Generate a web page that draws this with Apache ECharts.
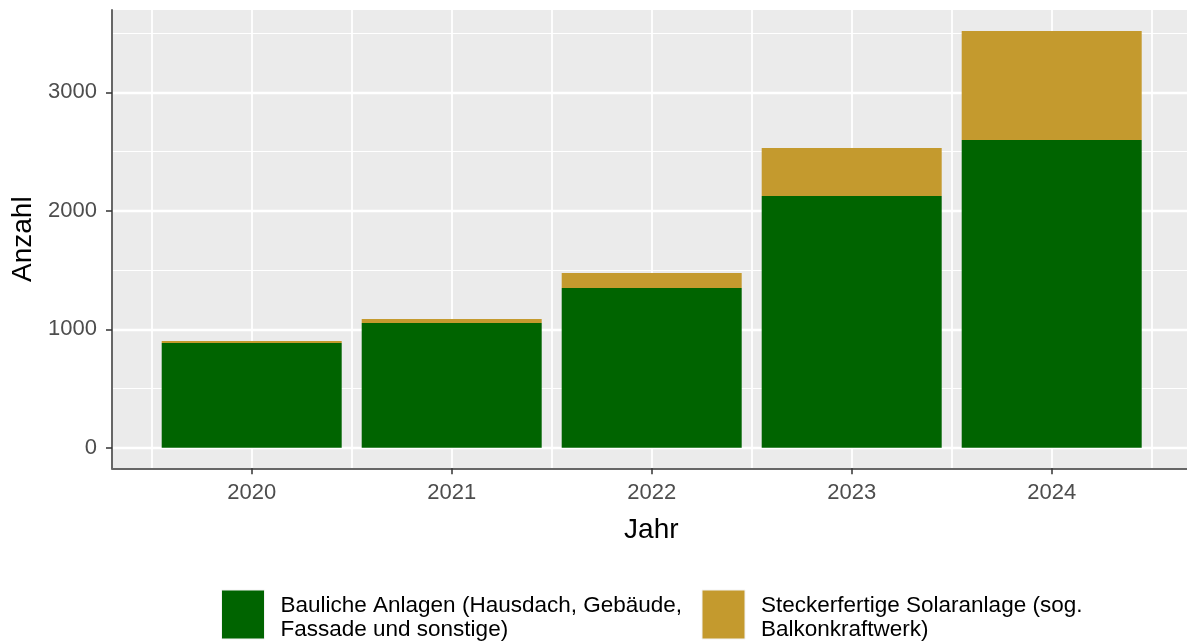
<!DOCTYPE html>
<html>
<head>
<meta charset="utf-8">
<script src="https://cdn.jsdelivr.net/npm/echarts@6/dist/echarts.min.js"></script>
<style>
html,body{margin:0;padding:0;background:#fff;}
#c{width:1187px;height:643px;}
</style>
</head>
<body>
<div id="c"></div>
<script>
var years = ['2020', '2021', '2022', '2023', '2024'];
var bauliche = [884, 1053, 1348, 2125, 2598];
var stecker = [17, 34, 127, 405, 920];
var seriesNames = ['Bauliche Anlagen (Hausdach, Gebäude, Fassade und sonstige)', 'Steckerfertige Solaranlage (sog. Balkonkraftwerk)'];
var legendLines = [['Bauliche Anlagen (Hausdach, Gebäude,', 'Fassade und sonstige)'], ['Steckerfertige Solaranlage (sog.', 'Balkonkraftwerk)']];
var colors = ['#006400', '#C49A2E'];
var yTickInterval = 1000;

var FONT = '"Liberation Sans", Arial, sans-serif';
var chart = echarts.init(document.getElementById('c'), null, {renderer: 'canvas'});

function legendFmt(name) {
  var l = legendLines[seriesNames.indexOf(name)];
  return '{s|}\n{t|' + l[0] + '}\n{t|' + l[1] + '}';
}
var legendCommon = {
  orient: 'horizontal', top: 589.5, padding: 0, itemWidth: 43, itemHeight: 49,
  icon: 'rect', formatter: legendFmt, selectedMode: false,
  itemStyle: {borderColor: '#F2F2F2', borderWidth: 1},
  textStyle: {fontFamily: FONT, fontSize: 22.5, color: '#000', padding: [0, 0, 0, 11],
    rich: {
      s: {fontSize: 1, lineHeight: 7, fontFamily: FONT},
      t: {fontFamily: FONT, fontSize: 22.5, lineHeight: 24.5, color: '#000'}
    }}
};

var option = {
  animation: false,
  backgroundColor: '#fff',
  textStyle: {fontFamily: FONT},
  grid: [
    {left: 112, right: -3.7, top: 10, bottom: 174.7, show: true, backgroundColor: '#EBEBEB', borderWidth: 0, z: -5, outerBoundsMode: 'none', containLabel: false},
    {left: 112, right: -3.7, top: -26.1, bottom: 195.3, outerBoundsMode: 'none', containLabel: false},
    {left: 151.7, right: 35.3, top: 10, bottom: 174.7, outerBoundsMode: 'none', containLabel: false},
    {left: 151.7, right: 35.3, top: -26.1, bottom: 195.3, outerBoundsMode: 'none', containLabel: false}
  ],
  xAxis: [
    {gridIndex: 0, type: 'value', min: 0, max: 1, position: 'bottom',
     axisLine: {show: true, lineStyle: {color: '#666', width: 2}},
     axisTick: {show: false}, axisLabel: {show: false}, splitLine: {show: false},
     name: 'Jahr', nameLocation: 'middle', nameGap: 48,
     nameTextStyle: {fontFamily: FONT, fontSize: 28, color: '#000'}},
    {gridIndex: 1, type: 'value', min: 0, max: 1, show: false},
    {gridIndex: 2, type: 'value', min: 0, max: 10, interval: 1, position: 'top',
     axisLine: {show: false}, axisTick: {show: false}, axisLabel: {show: false},
     splitLine: {show: true, lineStyle: {color: '#FFFFFF', width: 1.8}}},
    {gridIndex: 2, type: 'category', data: years, position: 'bottom', boundaryGap: true,
     axisLine: {show: false},
     axisTick: {show: true, alignWithLabel: true, length: 6, lineStyle: {color: '#333', width: 1.5}},
     axisLabel: {fontFamily: FONT, fontSize: 22, color: '#4D4D4D', margin: 14},
     splitLine: {show: false}},
    {gridIndex: 3, type: 'category', data: years, show: false}
  ],
  yAxis: [
    {gridIndex: 0, type: 'value', min: 0, max: 1, position: 'left',
     axisLine: {show: true, lineStyle: {color: '#666', width: 2}},
     axisTick: {show: false}, axisLabel: {show: false}, splitLine: {show: false},
     name: 'Anzahl', nameLocation: 'middle', nameGap: 75,
     nameTextStyle: {fontFamily: FONT, fontSize: 28, color: '#000'}},
    {gridIndex: 1, type: 'value', min: 0, max: 4000, interval: yTickInterval, position: 'left',
     axisLine: {show: false},
     axisTick: {show: true, length: 6, lineStyle: {color: '#333', width: 1.5}},
     axisLabel: {fontFamily: FONT, fontSize: 22, color: '#4D4D4D', margin: 15,
                 formatter: function (v) { return String(v); }},
     splitLine: {show: true, lineStyle: {color: '#FFFFFF', width: 2.4}},
     minorTick: {show: false, splitNumber: 2},
     minorSplitLine: {show: true, lineStyle: {color: '#FFFFFF', width: 1.2}}},
    {gridIndex: 2, type: 'value', show: false},
    {gridIndex: 3, type: 'value', min: 0, max: 4000, show: false}
  ],
  legend: [
    Object.assign({}, legendCommon, {left: 221, data: [seriesNames[0]]}),
    Object.assign({}, legendCommon, {left: 701.5, data: [seriesNames[1]]})
  ],
  series: [
    {name: seriesNames[0], type: 'bar', stack: 'total', xAxisIndex: 4, yAxisIndex: 3,
     barWidth: '90%', data: bauliche, itemStyle: {color: colors[0]}, clip: false},
    {name: seriesNames[1], type: 'bar', stack: 'total', xAxisIndex: 4, yAxisIndex: 3,
     barWidth: '90%', data: stecker, itemStyle: {color: colors[1]}, clip: false}
  ]
};
chart.setOption(option);
</script>
</body>
</html>
